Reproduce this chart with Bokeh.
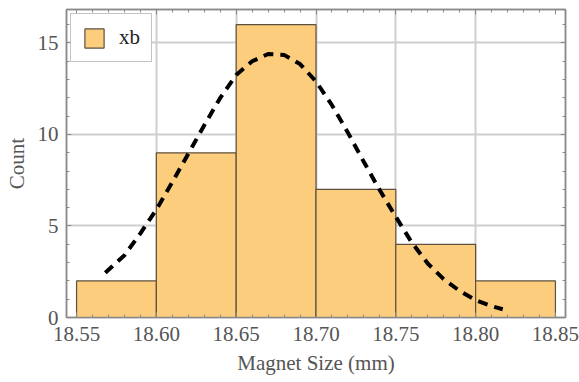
from bokeh.plotting import figure
from bokeh.models import (SingleIntervalTicker, FixedTicker, PrintfTickFormatter,
                          CustomJSTickFormatter, LinearAxis, Range1d, Legend, LegendItem)
from bokeh.embed import file_html
from bokeh.resources import INLINE

# histogram data
bin_left = [18.55, 18.60, 18.65, 18.70, 18.75, 18.80]
bin_right = [18.60, 18.65, 18.70, 18.75, 18.80, 18.85]
counts = [2, 9, 16, 7, 4, 2]

# fitted density curve
curve_x = [18.568, 18.58, 18.59, 18.60, 18.61, 18.62, 18.63, 18.64, 18.65, 18.66,
           18.67, 18.68, 18.69, 18.70, 18.71, 18.72, 18.73, 18.74, 18.75, 18.76,
           18.77, 18.78, 18.79, 18.80, 18.81, 18.817]
curve_y = [2.45, 3.4, 4.6, 5.9, 7.4, 8.95, 10.5, 12.0, 13.25, 14.0,
           14.4, 14.35, 13.85, 12.9, 11.6, 10.1, 8.5, 6.95, 5.5, 4.1,
           2.95, 2.1, 1.45, 0.95, 0.62, 0.45]

x_ticks_grid = [18.60, 18.65, 18.70, 18.75, 18.80]
y_ticks_grid = [5, 10, 15]

FONT = "Liberation Serif"
TXT = "#555555"
FRAME = "#8a8a8a"

p = figure(width=579, height=382, output_backend="svg", toolbar_location=None,
           x_range=Range1d(18.5437, 18.8563), y_range=Range1d(0, 16.83),
           min_border_left=66, min_border_right=14, min_border_top=9, min_border_bottom=65,
           x_axis_label="Magnet Size (mm)", y_axis_label="Count")

p.background_fill_color = "white"
p.border_fill_color = "white"
p.outline_line_color = FRAME
p.outline_line_width = 1.5

p.xgrid.ticker = FixedTicker(ticks=x_ticks_grid)
p.ygrid.ticker = FixedTicker(ticks=y_ticks_grid)
for g in (p.xgrid, p.ygrid):
    g.grid_line_color = "#cfcfcf"
    g.grid_line_width = 2

xt = SingleIntervalTicker(interval=0.05, num_minor_ticks=5)
yt = SingleIntervalTicker(interval=5, num_minor_ticks=5)

def style_axis(ax):
    ax.axis_line_color = FRAME
    ax.axis_line_width = 1.5
    ax.major_tick_line_color = FRAME
    ax.minor_tick_line_color = FRAME
    ax.major_tick_in = 5
    ax.major_tick_out = 0
    ax.minor_tick_in = 3
    ax.minor_tick_out = 0
    ax.major_label_text_font = FONT
    ax.major_label_text_font_size = "21px"
    ax.major_label_text_color = TXT
    ax.axis_label_text_font = FONT
    ax.axis_label_text_font_size = "21px"
    ax.axis_label_text_color = TXT
    ax.axis_label_text_font_style = "normal"

p.xaxis.ticker = xt
p.xaxis.formatter = PrintfTickFormatter(format="%.2f")
p.yaxis.ticker = yt
style_axis(p.xaxis[0])
style_axis(p.yaxis[0])
p.xaxis.major_label_standoff = 9
p.xaxis.axis_label_standoff = 7
p.yaxis.major_label_standoff = 8
p.yaxis.axis_label_standoff = 6

blank = CustomJSTickFormatter(code="return ''")
top_ax = LinearAxis(ticker=SingleIntervalTicker(interval=0.05, num_minor_ticks=5),
                    formatter=blank)
right_ax = LinearAxis(ticker=SingleIntervalTicker(interval=5, num_minor_ticks=5),
                      formatter=blank)
style_axis(top_ax)
style_axis(right_ax)
top_ax.major_label_standoff = 0
right_ax.major_label_standoff = 0
p.add_layout(top_ax, "above")
p.add_layout(right_ax, "right")

bars = p.quad(left=bin_left, right=bin_right, bottom=0, top=counts,
              fill_color="#fbcd7c", line_color="#5e5040", line_width=1.2)

p.line(curve_x, curve_y, line_color="black", line_width=4, line_dash="10 7")

legend = Legend(items=[LegendItem(label="xb", renderers=[bars])],
                location="top_left", margin=4, padding=11,
                glyph_width=24, glyph_height=24, label_standoff=13,
                label_text_font=FONT, label_text_font_size="21px",
                label_text_color="#222222",
                border_line_color=FRAME, border_line_width=1.2,
                background_fill_color="white", background_fill_alpha=1)
p.add_layout(legend)

open("out.html", "w").write(file_html(p, INLINE))
